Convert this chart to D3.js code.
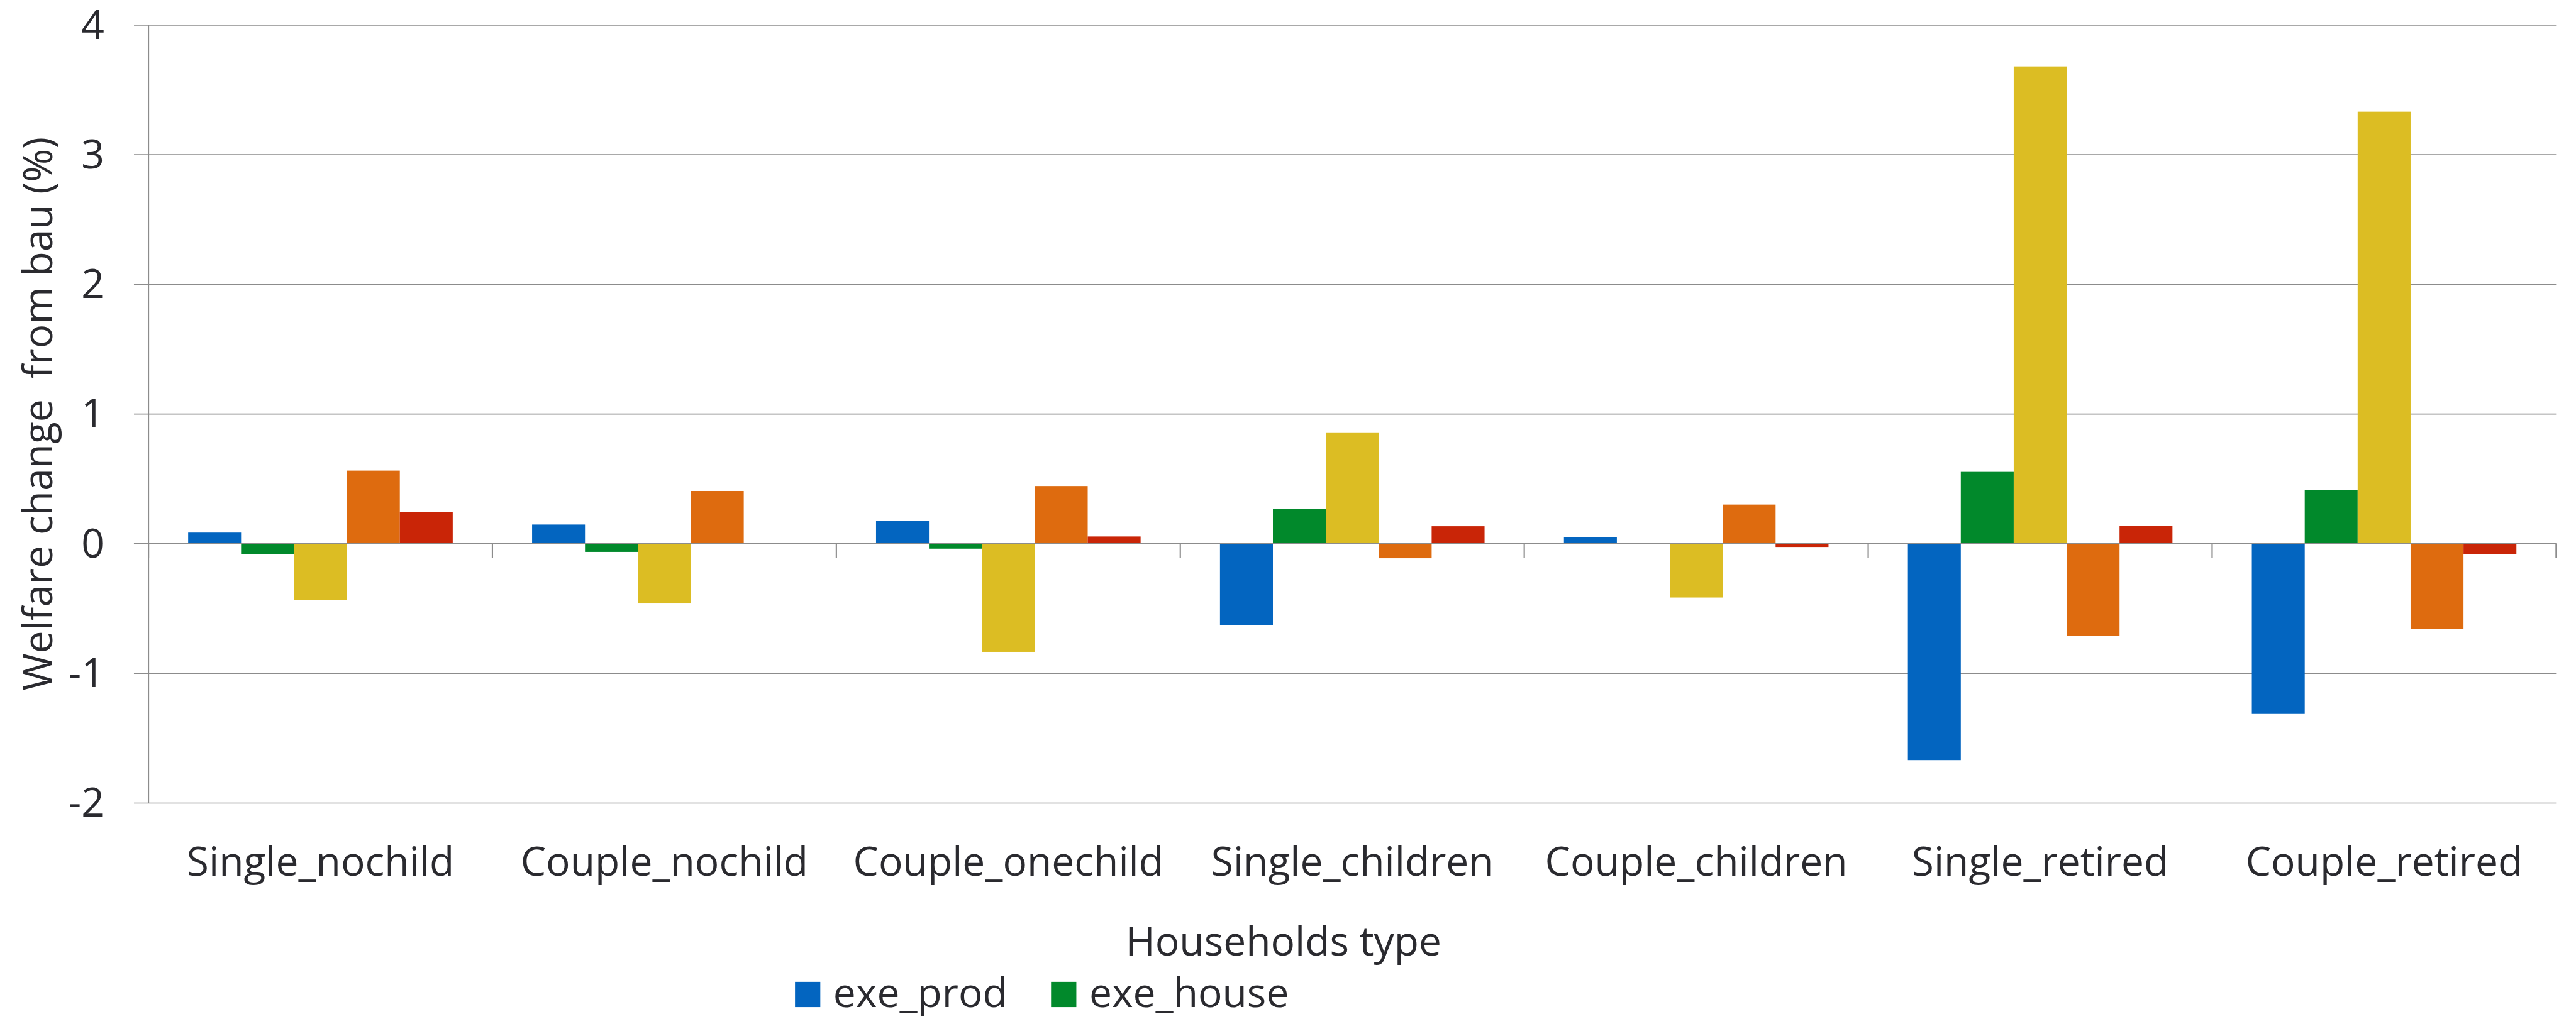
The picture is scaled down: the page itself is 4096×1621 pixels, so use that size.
<!DOCTYPE html>
<html>
<head>
<meta charset="utf-8">
<script src="https://cdn.jsdelivr.net/npm/d3@7"></script>
<style>
  html, body { margin: 0; padding: 0; background: #ffffff; }
  svg { display: block; }
  text { font-family: "Open Sans", "Noto Sans", sans-serif; fill: #2a2a2f; }
</style>
</head>
<body>
<div id="chart"></div>
<script>
// Household categories along the horizontal axis
const categories = [
  "Single_nochild", "Couple_nochild", "Couple_onechild", "Single_children",
  "Couple_children", "Single_retired", "Couple_retired"
];

// Welfare change from bau (%), one array per scenario
const exeProd  = [0.084, 0.146, 0.174, -0.632, 0.049, -1.671, -1.315];
const exeHouse = [-0.080, -0.065, -0.040, 0.266, 0.004, 0.552, 0.414];
const series3  = [-0.434, -0.463, -0.836, 0.852, -0.417, 3.679, 3.330];
const series4  = [0.562, 0.405, 0.443, -0.114, 0.300, -0.713, -0.659];
const series5  = [0.243, 0.005, 0.054, 0.133, -0.027, 0.134, -0.084];

const seriesKeys = ["exe_prod", "exe_house", "s3", "s4", "s5"];
const seriesValues = [exeProd, exeHouse, series3, series4, series5];
const seriesColors = ["#0365c0", "#01892b", "#dcbd23", "#de6b0f", "#c92507"];

// Entries shown in the legend row
const legendNames = ["exe_prod", "exe_house"];

// Value axis ticks and their labels (plain hyphen for negatives)
const yTicks = [-2, -1, 0, 1, 2, 3, 4];
const yTickLabels = ["-2", "-1", "0", "1", "2", "3", "4"];

const yTitle = "Welfare change  from bau (%)";
const xTitle = "Households type";

// Layout in a 4789 x 1895 design space, scaled to the window by the viewBox
const W = 4789, H = 1895;
const plot = { left: 276, right: 4752, top: 46, bottom: 1493 };
const gridStart = 249;
const fontSize = 75;
const axisColor = "#8c8c8c";

const svg = d3.select("#chart").append("svg")
  .attr("width", 4096)
  .attr("height", 1621)
  .attr("viewBox", `0 0 ${W} ${H}`);

const x0 = d3.scaleBand()
  .domain(categories)
  .range([plot.left, plot.right])
  .paddingInner(0)
  .paddingOuter(0);

const x1 = d3.scaleBand()
  .domain(seriesKeys)
  .range([0, x0.bandwidth()])
  .paddingInner(0)
  .paddingOuter(0.75);

const y = d3.scaleLinear()
  .domain([-2, 4])
  .range([plot.bottom, plot.top]);

// Gridlines and tick labels
const yAxis = d3.axisLeft(y)
  .tickValues(yTicks)
  .tickFormat((d, i) => yTickLabels[i])
  .tickSize(plot.right - gridStart)
  .tickPadding(55);

const gy = svg.append("g")
  .attr("transform", `translate(${plot.right},0)`)
  .call(yAxis);
gy.select(".domain").remove();
gy.selectAll(".tick line")
  .attr("stroke", axisColor)
  .attr("stroke-width", 2);
gy.selectAll(".tick text")
  .attr("font-size", fontSize)
  .attr("font-family", "'Open Sans', 'Noto Sans', sans-serif")
  .attr("fill", "#2a2a2f")
  .attr("dy", "0.34em");

// Vertical value axis line
svg.append("line")
  .attr("x1", plot.left).attr("x2", plot.left)
  .attr("y1", plot.top).attr("y2", plot.bottom)
  .attr("stroke", axisColor)
  .attr("stroke-width", 2.5);

// Bars
const rows = categories.map((c, i) => ({
  category: c,
  values: seriesKeys.map((k, j) => ({ key: k, value: seriesValues[j][i], color: seriesColors[j] }))
}));

const groups = svg.append("g")
  .selectAll("g")
  .data(rows)
  .join("g")
  .attr("transform", d => `translate(${x0(d.category)},0)`);

groups.selectAll("rect")
  .data(d => d.values)
  .join("rect")
  .attr("x", d => x1(d.key))
  .attr("width", x1.bandwidth())
  .attr("y", d => y(Math.max(0, d.value)))
  .attr("height", d => Math.abs(y(d.value) - y(0)))
  .attr("fill", d => d.color);

// Category axis along zero, with ticks at category boundaries
const zeroY = y(0);
svg.append("line")
  .attr("x1", gridStart).attr("x2", plot.right)
  .attr("y1", zeroY).attr("y2", zeroY)
  .attr("stroke", axisColor)
  .attr("stroke-width", 2.5);

const boundaries = categories.map(c => x0(c)).concat([x0.range()[1]]);
svg.append("g")
  .selectAll("line")
  .data(boundaries)
  .join("line")
  .attr("x1", d => d).attr("x2", d => d)
  .attr("y1", zeroY).attr("y2", zeroY + 27)
  .attr("stroke", axisColor)
  .attr("stroke-width", 2.5);

const xAxis = d3.axisBottom(x0).tickSize(0).tickPadding(0);
const gx = svg.append("g")
  .attr("transform", `translate(0,1629)`)
  .call(xAxis);
gx.select(".domain").remove();
gx.selectAll(".tick text")
  .attr("y", 0)
  .attr("dy", 0)
  .attr("font-size", fontSize)
  .attr("font-family", "'Open Sans', 'Noto Sans', sans-serif")
  .attr("fill", "#2a2a2f");

// Axis titles
svg.append("text")
  .attr("transform", `translate(97,${(plot.top + plot.bottom) / 2}) rotate(-90)`)
  .attr("text-anchor", "middle")
  .attr("font-size", fontSize)
  .style("white-space", "pre")
  .text(yTitle);

svg.append("text")
  .attr("x", 2386)
  .attr("y", 1777)
  .attr("text-anchor", "middle")
  .attr("font-size", fontSize)
  .text(xTitle);

// Legend
const legendX = [1478, 1954];
const legend = svg.append("g")
  .selectAll("g")
  .data(legendNames)
  .join("g")
  .attr("transform", (d, i) => `translate(${legendX[i]},1826)`);

legend.append("rect")
  .attr("width", 47)
  .attr("height", 47)
  .attr("fill", (d, i) => seriesColors[i]);

legend.append("text")
  .attr("x", 71)
  .attr("y", 47)
  .attr("font-size", fontSize)
  .text(d => d);
</script>
</body>
</html>
